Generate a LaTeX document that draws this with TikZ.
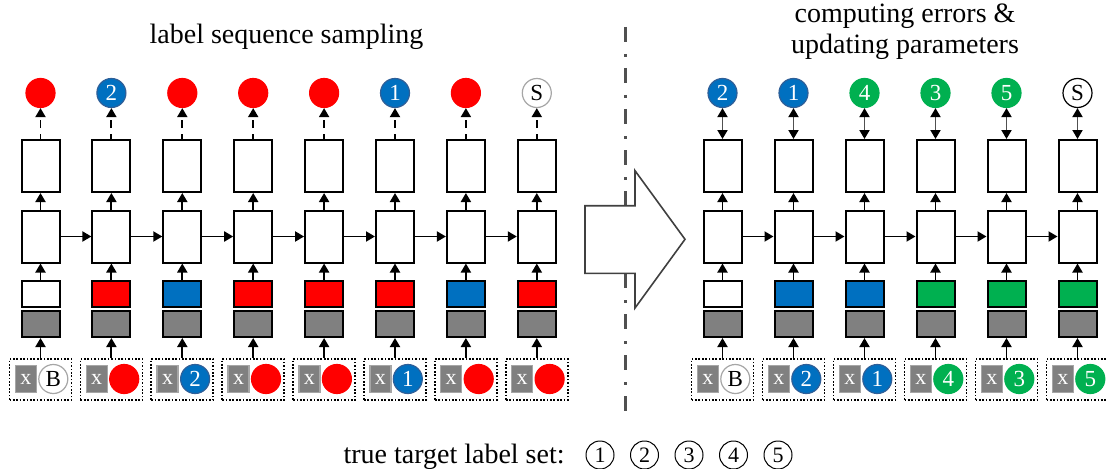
\documentclass[tikz,border=0pt]{standalone}
\usepackage{fontspec}
\setmainfont{Liberation Serif}
\usetikzlibrary{arrows.meta}
\definecolor{cred}{HTML}{FF0000}
\definecolor{cblue}{HTML}{0070C0}
\definecolor{cbluedk}{HTML}{2F5F98}
\definecolor{cgreen}{HTML}{00B050}
\definecolor{cgray}{HTML}{808080}
\definecolor{clgray}{HTML}{A6A6A6}
\definecolor{cdkgray}{HTML}{505050}
\begin{document}
\begin{tikzpicture}[x=1pt,y=-1pt,
  box/.style={draw=black, line width=2pt, fill=white, minimum width=38pt, minimum height=52pt, inner sep=0pt},
  ebox/.style={draw=black, line width=2pt, minimum width=38pt, minimum height=26pt, inner sep=0pt},
  lab/.style={circle, minimum size=29pt, inner sep=0pt, line width=1.2pt, font=\fontsize{23}{23}\selectfont},
  inbox/.style={draw=black, dash pattern=on 1.7pt off 1.7pt, line width=1.7pt, minimum width=62pt, minimum height=41pt, inner sep=0pt},
  xsq/.style={fill=cgray, draw=clgray, line width=1.4pt, minimum width=21pt, minimum height=27pt, inner sep=0pt, text=white, font=\fontsize{22}{22}\selectfont},
  arr/.style={-{Triangle[length=9pt,width=10pt]}, line width=1.9pt},
  darr/.style={arr, dash pattern=on 8pt off 6pt, dash phase=3pt},
  barr/.style={{Triangle[length=9pt,width=10pt,color=black]}-{Triangle[length=9pt,width=10pt,color=black]}, line width=1.9pt, draw=cdkgray},
  ttl/.style={font=\fontsize{28}{31}\selectfont, align=center},
  tcirc/.style={circle, draw=black, line width=1pt, minimum size=28pt, inner sep=0pt, font=\fontsize{22}{22}\selectfont},
]
\useasboundingbox (0,0) rectangle (1107,468);
\fill[white] (0,0) rectangle (1107,468);

% divider
\coordinate (dtop) at (625,27);
\coordinate (dbot) at (625,421);
\draw[line width=3pt, draw=cdkgray, dash pattern=on 15pt off 12pt on 3pt off 11pt] (dtop) -- (dbot);

% big arrow
\draw[line width=1.6pt, draw=cdkgray!80!black, fill=white] (585,205.7) -- (635,205.7) -- (635,170.7) -- (685,239.3) -- (635,308) -- (635,273.3) -- (585,273.3) -- cycle;

% titles
\node[ttl] (t1) at (286.5,37) {label sequence sampling};
\node[ttl] (t2) at (905,32) {computing errors \&\\updating parameters};

% left columns
\foreach \i/\oF/\oD/\oT/\oL/\eC/\iF/\iD/\iT/\iL in {
  0/cred/cred/white//white/white/clgray/black/B,
  1/cblue/cbluedk/white/2/cred/cred/cred/white/,
  2/cred/cred/white//cblue/cblue/cbluedk/white/2,
  3/cred/cred/white//cred/cred/cred/white/,
  4/cred/cred/white//cred/cred/cred/white/,
  5/cblue/cbluedk/white/1/cred/cblue/cbluedk/white/1,
  6/cred/cred/white//cblue/cred/cred/white/,
  7/white/clgray/black/S/cred/cred/cred/white/}{
  \pgfmathsetmacro{\cx}{40.5+70.9*\i}
  \node[lab, fill=\oF, draw=\oD, text=\oT] (lo\i) at (\cx,93) {\oL};
  \node[box] (lt\i) at (\cx,166) {};
  \node[box] (lm\i) at (\cx,236.5) {};
  \node[ebox, fill=\eC] (le\i) at (\cx,294) {};
  \node[ebox, fill=cgray] (lg\i) at (\cx,324) {};
  \node[inbox] (li\i) at (\cx,379.5) {};
  \node[xsq] (lx\i) at (\cx-14.7,379) {x};
  \node[lab, fill=\iF, draw=\iD, text=\iT] (lc\i) at (\cx+12.8,379) {\iL};
  \draw[arr] (li\i) -- (lg\i);
  \draw[arr] (le\i) -- (lm\i);
  \draw[arr] (lm\i) -- (lt\i);
  \draw[darr] (lt\i) -- (lo\i);
}
\foreach \i [evaluate=\i as \j using int(\i+1)] in {0,...,6}{
  \draw[arr] (lm\i) -- (lm\j);
}

% right columns
\foreach \i/\oF/\oD/\oT/\oL/\eC/\iF/\iD/\iT/\iL in {
  0/cblue/cbluedk/white/2/white/white/clgray/black/B,
  1/cblue/cbluedk/white/1/cblue/cblue/cbluedk/white/2,
  2/cgreen/cgreen/white/4/cblue/cblue/cbluedk/white/1,
  3/cgreen/cgreen/white/3/cgreen/cgreen/cgreen/white/4,
  4/cgreen/cgreen/white/5/cgreen/cgreen/cgreen/white/3,
  5/white/black/black/S/cgreen/cgreen/cgreen/white/5}{
  \pgfmathsetmacro{\cx}{722.5+71*\i}
  \node[lab, fill=\oF, draw=\oD, text=\oT] (ro\i) at (\cx,93) {\oL};
  \node[box] (rt\i) at (\cx,166) {};
  \node[box] (rm\i) at (\cx,236.5) {};
  \node[ebox, fill=\eC] (re\i) at (\cx,294) {};
  \node[ebox, fill=cgray] (rg\i) at (\cx,324) {};
  \node[inbox] (ri\i) at (\cx,379.5) {};
  \node[xsq] (rx\i) at (\cx-14.7,379) {x};
  \node[lab, fill=\iF, draw=\iD, text=\iT] (rc\i) at (\cx+12.8,379) {\iL};
  \draw[arr] (ri\i) -- (rg\i);
  \draw[arr] (re\i) -- (rm\i);
  \draw[arr] (rm\i) -- (rt\i);
  \draw[barr] (rt\i) -- (ro\i);
}
\foreach \i [evaluate=\i as \j using int(\i+1)] in {0,...,4}{
  \draw[arr] (rm\i) -- (rm\j);
}

% bottom legend
\node[ttl, anchor=base west] (leg) at (340,463) {true target label set:};
\foreach \k in {1,...,5}{
  \node[tcirc] (tc\k) at (600+44.5*\k-44.5,455) {\k};
}
\end{tikzpicture}
\end{document}
